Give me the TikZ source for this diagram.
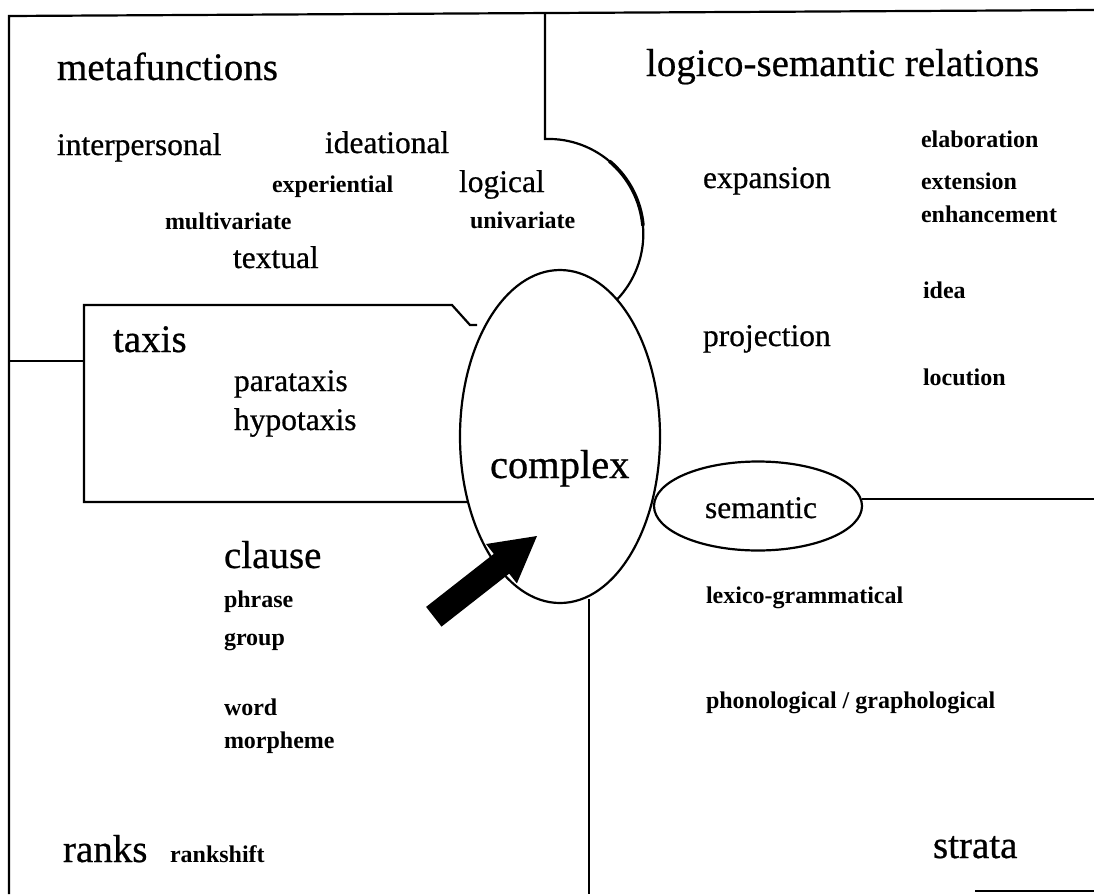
\documentclass[tikz,border=0pt]{standalone}
\usepackage{fontspec}
\setmainfont{Liberation Serif}
\newfontfamily\heavyserif{Liberation Serif}[FakeBold=0.6]
\usetikzlibrary{shapes.geometric}
\tikzset{
  rule/.style={line width=2.2pt, line join=miter},
  lbl/.style={anchor=base west, inner sep=0pt, outer sep=0pt},
  big/.style={lbl, font=\heavyserif\fontsize{39}{39}\selectfont},
  mid/.style={lbl, font=\heavyserif\fontsize{31.5}{31.5}\selectfont},
  small/.style={lbl, font=\bfseries\fontsize{24}{24}\selectfont},
  oval/.style={ellipse, draw, rule, inner sep=0pt, fill=white},
}
\begin{document}
\begin{tikzpicture}[x=1pt, y=-1pt]
\useasboundingbox (0,0) rectangle (1094,894);

% outer frame and quadrant borders
\draw[rule] (1094,10) -- (9,16) -- (9,894);
\draw[rule] (9,361) -- (84,361);
\draw[rule] (545,13) -- (545,139) arc[start angle=-92, end angle=44, radius=95];
\draw[line width=3.6pt] (609.4,161.1) arc[start angle=-50, end angle=-5, radius=95];

% taxis box
\draw[rule] (468,502) -- (84,502) -- (84,305) -- (452,305) -- (470,325) -- (477,325);

% central ovals
\node[oval, minimum width=200pt, minimum height=333pt] (complex) at (560,436.5) {};
\node[oval, minimum width=208pt, minimum height=89pt] (semantic) at (758,506) {};
\coordinate (rightedge) at (1094,499);
\draw[rule] (semantic.east |- rightedge) ++(-1,0) -- (rightedge);
\draw[rule] (589,599) -- (589,894);
\draw[rule] (975,891) -- (1094,891);

% block arrow pointing into the complex
\fill (426.1,606.9) -- (493.8,553.9) -- (486.1,544.0) -- (537,536)
      -- (516.9,583.4) -- (509.2,573.6) -- (441.5,626.6) -- cycle;

% metafunctions
\node[big]   (metaf)  at (57,80)   {metafunctions};
\node[mid]   (interp) at (57,155)  {interpersonal};
\node[mid]   (ideat)  at (325,153) {ideational};
\node[small] (exper)  at (272,192) {experiential};
\node[mid]   (logic)  at (459,192) {logical};
\node[small] (multiv) at (165,229) {multivariate};
\node[small] (univ)   at (470,228) {univariate};
\node[mid]   (textu)  at (233,268) {textual};

% taxis
\node[big]   (taxis)  at (113,352) {taxis};
\node[mid]   (para)   at (234,391) {parataxis};
\node[mid]   (hypo)   at (234,430) {hypotaxis};

\node[lbl, font=\heavyserif\fontsize{40.5}{40.5}\selectfont] (cplx) at (490,478) {complex};

% ranks
\node[big]   (clause) at (224,568) {clause};
\node[small] (phrase) at (224,607) {phrase};
\node[small] (group)  at (224,645) {group};
\node[small] (word)   at (224,715) {word};
\node[small] (morph)  at (224,748) {morpheme};
\node[big]   (ranks)  at (63,862)  {ranks};
\node[small] (rshift) at (170,862) {rankshift};

% logico-semantic relations
\node[big]   (lsr)    at (646,76)  {logico-semantic relations};
\node[small] (elab)   at (921,147) {elaboration};
\node[mid]   (expan)  at (703,188) {expansion};
\node[small] (exten)  at (921,189) {extension};
\node[small] (enh)    at (921,222) {enhancement};
\node[small] (idea)   at (923,298) {idea};
\node[mid]   (proj)   at (703,346) {projection};
\node[small] (locut)  at (923,385) {locution};

% strata
\node[mid]   (semtxt) at (705,518) {semantic};
\node[small] (lexg)   at (706,603) {lexico-grammatical};
\node[small] (phon)   at (706,708) {phonological / graphological};
\node[big]   (strata) at (933,858) {strata};
\end{tikzpicture}
\end{document}
